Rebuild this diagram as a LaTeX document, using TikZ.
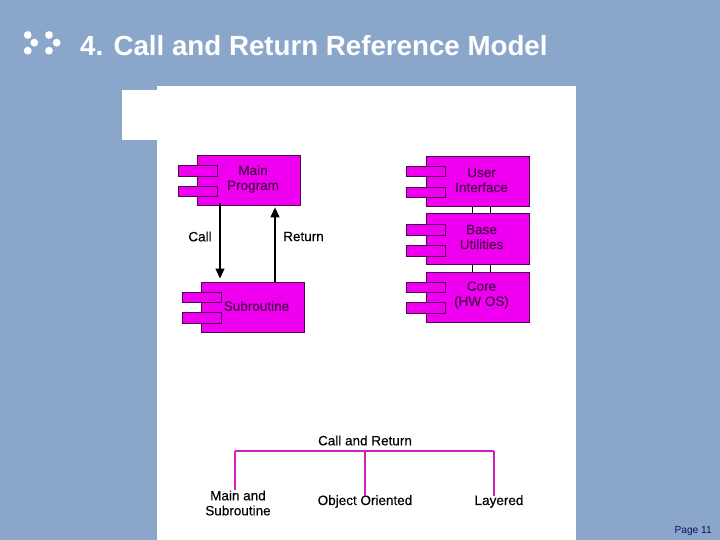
\documentclass[tikz,border=0pt]{standalone}
\usepackage{fontspec}
\setmainfont{Liberation Sans}
\definecolor{slide}{HTML}{8AA6CA}
\definecolor{mag}{HTML}{F000F0}
\definecolor{edge}{HTML}{500050}
\definecolor{inner}{HTML}{4A004A}
\definecolor{navy}{HTML}{101060}
\definecolor{treeline}{HTML}{D020C0}
\usetikzlibrary{arrows.meta}
\newfontfamily\labelfont[FakeBold=0.25]{Liberation Sans}
\tikzset{
  comp/.style={draw=edge,fill=mag,line width=0.9pt,minimum width=102.5pt,minimum height=50.5pt,inner sep=0pt,anchor=north west},
  tab/.style={draw=edge,fill=mag,line width=0.9pt,minimum width=39pt,minimum height=10.5pt,inner sep=0pt,anchor=north west},
  inlabel/.style={text=inner,font=\labelfont\fontsize{13.5}{15}\selectfont,align=center,inner sep=0pt},
  outlabel/.style={text=black,font=\labelfont\fontsize{13.5}{15}\selectfont,align=center,inner sep=0pt},
  arr/.style={draw=black,line width=1.2pt,-{Triangle[length=10pt,width=9pt]}},
  link/.style={draw=black,line width=0.8pt},
  treeedge/.style={draw=treeline,line width=1.4pt},
  dot/.style={circle,fill=white,minimum size=7.8pt,inner sep=0pt}
}
\begin{document}
\begin{tikzpicture}[x=1pt,y=-1pt]
\useasboundingbox (0,0) rectangle (720,540);
\fill[slide] (0,0) rectangle (720,540);
\fill[white] (122,90) rectangle (157,140);
\fill[white] (157,86) rectangle (576,540);
% icon
\node[dot] (d1) at (27.7,35) {};
\node[dot] (d2) at (49,35) {};
\node[dot] (d3) at (34.3,42.7) {};
\node[dot] (d4) at (56.7,42.7) {};
\node[dot] (d5) at (27.7,50.7) {};
\node[dot] (d6) at (49,50.7) {};
\node[anchor=west,inner sep=0pt,text=white,font=\bfseries\fontsize{27.7}{32}\selectfont] (title) at (80,45.5) {4. Call and Return Reference Model};
\coordinate (k1) at (472.3,240);
\coordinate (k2) at (490.3,240);
% left components
\node[comp] (main) at (197,155) {};
\node[tab] (m1) at (178,165.5) {};
\node[tab] (m2) at (178,186) {};
\node[inlabel] (mainl) at (253,179) {Main\\Program};
\node[comp] (sub) at (201,281.5) {};
\node[tab] (s1) at (181.5,291.5) {};
\node[tab] (s2) at (181.5,312) {};
\node[inlabel] (subl) at (256.5,306) {Subroutine};
% right components
\node[comp] (ui) at (426,156) {};
\node[tab] (u1) at (406,166) {};
\node[tab] (u2) at (406,187) {};
\node[inlabel] (uil) at (481.5,180) {User\\Interface};
\node[comp] (base) at (426,213.5) {};
\node[tab] (b1) at (406,224) {};
\node[tab] (b2) at (406,245) {};
\node[inlabel] (basel) at (481.5,237) {Base\\Utilities};
\node[comp] (core) at (426,271.5) {};
\node[tab] (c1) at (406,281.5) {};
\node[tab] (c2) at (406,302) {};
\node[inlabel] (corel) at (481.5,295) {Core\\(HW OS)};
\draw[link] (ui.south -| k1) -- (base.north -| k1);
\draw[link] (ui.south -| k2) -- (base.north -| k2);
\draw[link] (base.south -| k1) -- (core.north -| k1);
\draw[link] (base.south -| k2) -- (core.north -| k2);
% arrows
\coordinate (ax) at (220,240);
\coordinate (bx) at (275,240);
\draw[arr,shorten <=-3pt,shorten >=3pt] (main.south -| ax) -- (sub.north -| ax);
\draw[arr,shorten >=1pt] (sub.north -| bx) -- (main.south -| bx);
\node[outlabel] (call) at (200,236.5) {Call};
\node[outlabel] (ret) at (303.5,236.5) {Return};
% tree
\node[outlabel] (root) at (365,440.5) {Call and Return};
\node[outlabel] (leafa) at (238,503) {Main and\\Subroutine};
\node[outlabel] (leafb) at (365,501.5) {Object Oriented};
\node[outlabel] (leafc) at (499,501.5) {Layered};
\coordinate (ta) at (235,451);
\coordinate (tb) at (365,451);
\coordinate (tc) at (494,451);
\draw[treeedge] (ta) -- (tb) -- (tc);
\draw[treeedge] (ta) -- (ta |- leafa.north);
\draw[treeedge] (tb) -- ([yshift=-1pt]tb |- leafb.north);
\draw[treeedge] (tc) -- ([yshift=-1pt]tc |- leafc.north);
\node[anchor=east,inner sep=0pt,text=navy,font=\fontsize{10.2}{12}\selectfont] (page) at (712,531) {Page 11};
\end{tikzpicture}
\end{document}
